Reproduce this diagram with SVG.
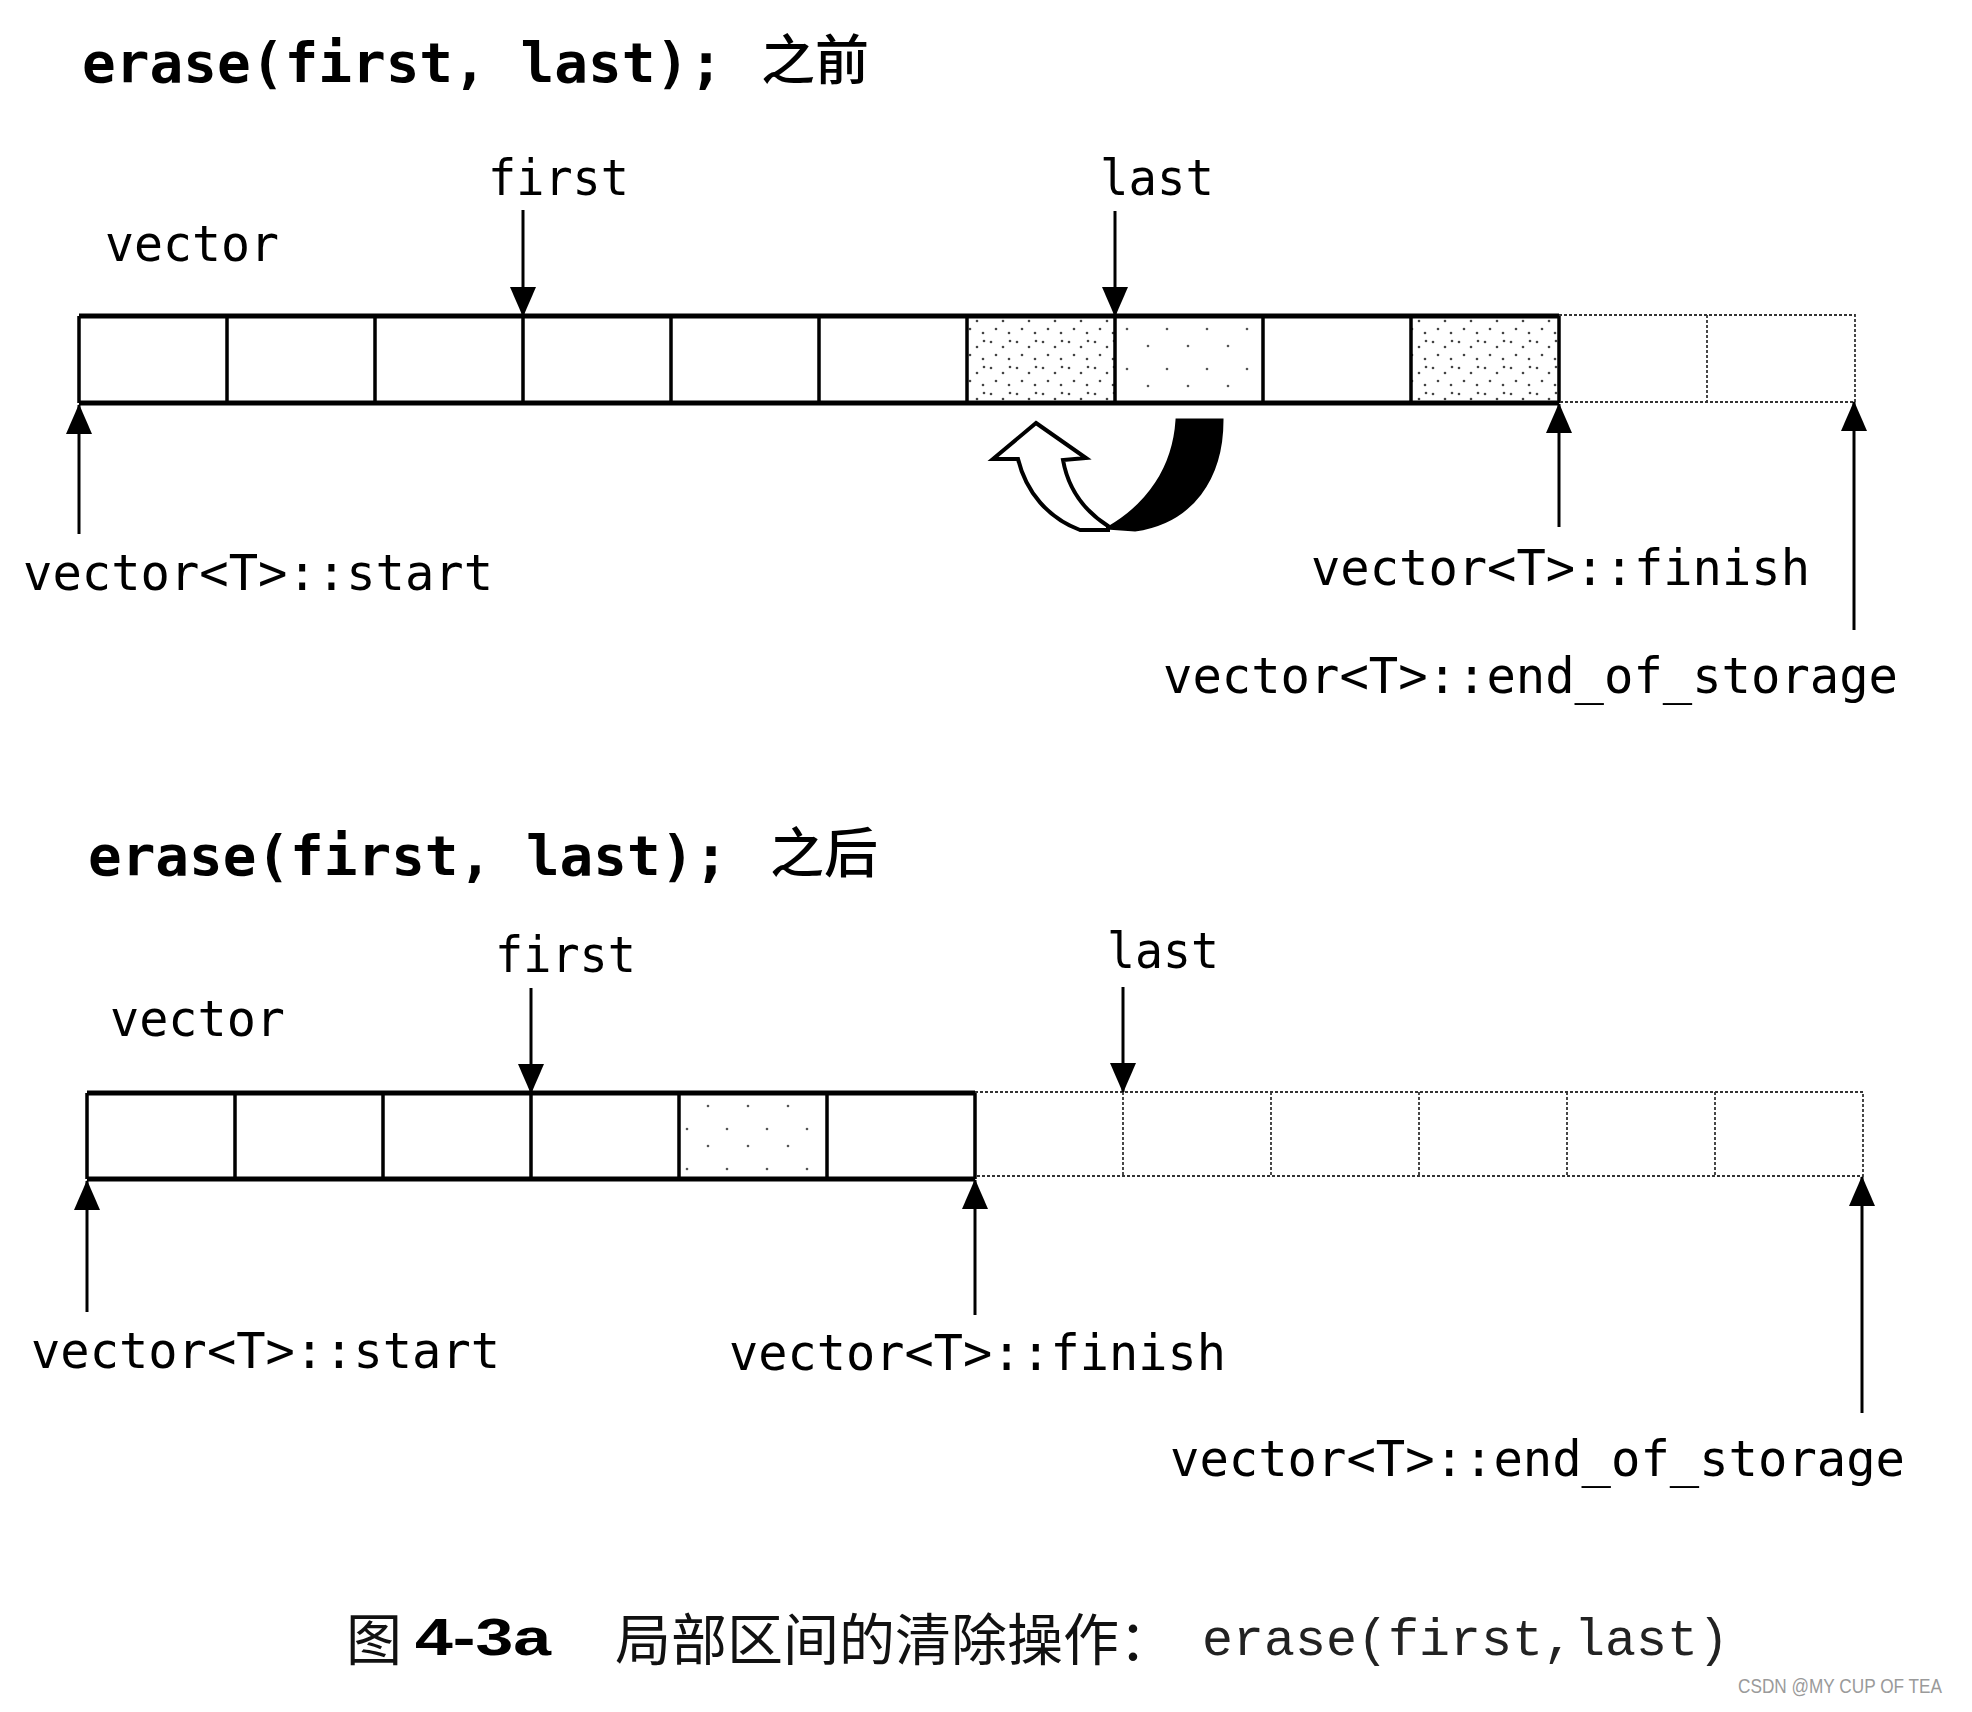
<svg xmlns="http://www.w3.org/2000/svg" width="1972" height="1712" viewBox="0 0 1972 1712">
<style>
.title{font-family:"DejaVu Sans Mono","Liberation Mono",monospace;font-weight:bold;font-size:56px;fill:#000}
.cjk{font-family:"Noto Sans CJK SC","Noto Sans CJK JP",sans-serif;font-weight:500;font-size:54px;fill:#000}
.lbl{font-family:"DejaVu Sans Mono","Liberation Mono",monospace;font-size:50px;fill:#000}
.cell{fill:none;stroke:#000;stroke-width:3.5}
.edge{stroke:#000;stroke-width:5;fill:none}
.dot{fill:none;stroke:#333;stroke-width:1.8;stroke-dasharray:3 2}
.ptr{stroke:#000;stroke-width:3;fill:none;marker-end:url(#ah)}
.cap{font-family:"Noto Sans CJK SC",sans-serif;font-size:56px;fill:#111}
</style>
<defs>
<marker id="ah" markerUnits="userSpaceOnUse" markerWidth="30" markerHeight="26" viewBox="0 0 30 26" refX="29" refY="13" orient="auto">
<path d="M0,0 L30,13 L0,26 Z" fill="#000"/>
</marker>
<pattern id="dense" width="26" height="26" patternUnits="userSpaceOnUse">
<rect width="26" height="26" fill="#fff"/>
<circle cx="3" cy="4" r="1.3" fill="#444"/>
<circle cx="15" cy="9" r="1.3" fill="#444"/>
<circle cx="8" cy="17" r="1.3" fill="#444"/>
<circle cx="21" cy="21" r="1.3" fill="#444"/>
<circle cx="22" cy="3" r="1.3" fill="#444"/>
</pattern>
<pattern id="light" width="40" height="40" patternUnits="userSpaceOnUse">
<rect width="40" height="40" fill="#fff"/>
<circle cx="7" cy="9" r="1.3" fill="#555"/>
<circle cx="28" cy="26" r="1.3" fill="#555"/>
</pattern>
</defs>

<rect width="1972" height="1712" fill="#fff"/>

<!-- TOP: before -->
<g id="title-before">
<text class="title" x="82" y="82" textLength="641" lengthAdjust="spacingAndGlyphs">erase(first, last);</text>
<text class="cjk" x="761" y="80">之前</text>
</g>

<g id="vector-before">
<text class="lbl" x="105" y="261" textLength="174" lengthAdjust="spacingAndGlyphs">vector</text>
<rect x="967" y="316" width="148" height="87" fill="url(#dense)"/>
<rect x="1115" y="316" width="148" height="87" fill="url(#light)"/>
<rect x="1411" y="316" width="148" height="87" fill="url(#dense)"/>
<path class="edge" d="M79,316 H1559 M79,403 H1559"/>
<path class="cell" d="M79,316 V403 M227,316 V403 M375,316 V403 M523,316 V403 M671,316 V403 M819,316 V403 M967,316 V403 M1115,316 V403 M1263,316 V403 M1411,316 V403 M1559,316 V403"/>
<path class="dot" d="M1559,315 H1855 V402 H1559 M1707,315 V402"/>
</g>

<g id="labels-before">
<text class="lbl" x="488" y="195" textLength="141" lengthAdjust="spacingAndGlyphs">first</text>
<text class="lbl" x="1100" y="195" textLength="114" lengthAdjust="spacingAndGlyphs">last</text>
<text class="lbl" x="23" y="590" textLength="470" lengthAdjust="spacingAndGlyphs">vector&lt;T&gt;::start</text>
<text class="lbl" x="1311" y="585" textLength="499" lengthAdjust="spacingAndGlyphs">vector&lt;T&gt;::finish</text>
<text class="lbl" x="1163" y="693" textLength="735" lengthAdjust="spacingAndGlyphs">vector&lt;T&gt;::end_of_storage</text>
</g>

<g id="move-arrow">
<path d="M1177,420 L1222,420 C1222,478 1192,522 1135,530 L1108,528 C1148,505 1174,468 1177,420 Z" fill="#000" stroke="#000" stroke-width="3"/>
<path d="M1036,423 L1086,458 L1063,460 C1068,488 1083,510 1108,526 L1108,530 L1080,530 C1048,518 1026,492 1018,459 L993,459 Z" fill="#fff" stroke="#000" stroke-width="4" stroke-linejoin="miter"/>
</g>

<!-- BOTTOM: after -->
<g id="title-after">
<text class="title" x="88" y="875" textLength="640" lengthAdjust="spacingAndGlyphs">erase(first, last);</text>
<text class="cjk" x="770" y="873">之后</text>
</g>

<g id="vector-after">
<text class="lbl" x="110" y="1036" textLength="175" lengthAdjust="spacingAndGlyphs">vector</text>
<rect x="679" y="1093" width="148" height="86" fill="url(#light)"/>
<path class="edge" d="M87,1093 H975 M87,1179 H975"/>
<path class="cell" d="M87,1093 V1179 M235,1093 V1179 M383,1093 V1179 M531,1093 V1179 M679,1093 V1179 M827,1093 V1179 M975,1093 V1179"/>
<path class="dot" d="M975,1092 H1863 V1176 H975 M1123,1092 V1176 M1271,1092 V1176 M1419,1092 V1176 M1567,1092 V1176 M1715,1092 V1176"/>
</g>

<g id="labels-after">
<text class="lbl" x="495" y="972" textLength="141" lengthAdjust="spacingAndGlyphs">first</text>
<text class="lbl" x="1107" y="968" textLength="112" lengthAdjust="spacingAndGlyphs">last</text>
<text class="lbl" x="31" y="1368" textLength="469" lengthAdjust="spacingAndGlyphs">vector&lt;T&gt;::start</text>
<text class="lbl" x="729" y="1370" textLength="497" lengthAdjust="spacingAndGlyphs">vector&lt;T&gt;::finish</text>
<text class="lbl" x="1170" y="1476" textLength="735" lengthAdjust="spacingAndGlyphs">vector&lt;T&gt;::end_of_storage</text>
</g>

<g id="connectors">
<line class="ptr" x1="523" y1="210" x2="523" y2="316"/>
<line class="ptr" x1="1115" y1="211" x2="1115" y2="316"/>
<line class="ptr" x1="79" y1="534" x2="79" y2="405"/>
<line class="ptr" x1="1559" y1="527" x2="1559" y2="404"/>
<line class="ptr" x1="1854" y1="630" x2="1854" y2="402"/>
<line class="ptr" x1="531" y1="988" x2="531" y2="1093"/>
<line class="ptr" x1="1123" y1="987" x2="1123" y2="1092"/>
<line class="ptr" x1="87" y1="1312" x2="87" y2="1181"/>
<line class="ptr" x1="975" y1="1315" x2="975" y2="1180"/>
<line class="ptr" x1="1862" y1="1413" x2="1862" y2="1177"/>
</g>

<g id="caption">
<text class="cap" x="346" y="1660">图</text>
<text x="415" y="1655" font-family="Liberation Sans, Arial, sans-serif" font-weight="bold" font-size="52" textLength="136" lengthAdjust="spacingAndGlyphs" fill="#000">4-3a</text>
<text class="cap" x="615" y="1660">局部区间的清除操作：</text>
<text x="1202" y="1655" font-family="Liberation Mono, Courier New, monospace" font-size="52" textLength="527" lengthAdjust="spacingAndGlyphs" fill="#222">erase(first,last)</text>
</g>
<text x="1738" y="1693" font-family="Liberation Sans, Arial, sans-serif" font-size="21" textLength="204" lengthAdjust="spacingAndGlyphs" fill="#9a9a9a">CSDN @MY CUP OF TEA</text>
</svg>
